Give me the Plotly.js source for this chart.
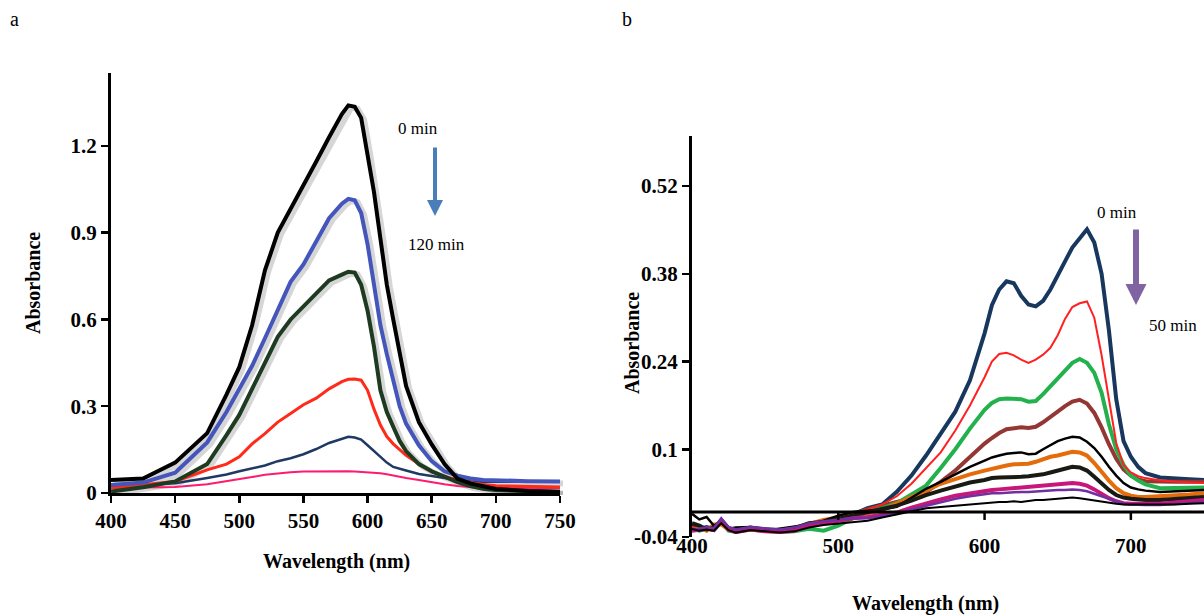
<!DOCTYPE html>
<html>
<head>
<meta charset="utf-8">
<script src="https://cdn.plot.ly/plotly-3.0.1.min.js"></script>
<style>html,body{margin:0;padding:0;background:#fff;}#chart{width:1204px;height:615px;}</style>
</head>
<body>
<div id="chart"></div>
<script>
// ---------- Panel a data (wavelength nm, absorbance) ----------
const waveA = [400,425,450,475,490,500,510,520,530,540,550,560,570,580,585,590,595,600,605,610,615,620,625,630,640,650,660,670,680,690,700,725,750];
const aBlack = [0.045,0.05,0.105,0.207,0.34,0.435,0.58,0.77,0.9,0.98,1.06,1.146,1.23,1.31,1.34,1.335,1.297,1.17,1.04,0.88,0.72,0.6,0.484,0.37,0.245,0.168,0.1,0.05,0.033,0.023,0.014,0.007,0.004];
const aBlue  = [0.028,0.036,0.07,0.175,0.28,0.36,0.44,0.535,0.63,0.73,0.79,0.87,0.95,1.0,1.017,1.012,0.968,0.86,0.71,0.58,0.48,0.39,0.3,0.24,0.165,0.11,0.075,0.06,0.05,0.045,0.043,0.041,0.04];
const aGreen = [0.005,0.02,0.04,0.1,0.2,0.27,0.36,0.45,0.54,0.6,0.645,0.69,0.735,0.755,0.765,0.762,0.72,0.63,0.506,0.355,0.28,0.229,0.18,0.145,0.1,0.075,0.056,0.038,0.024,0.015,0.01,0.006,0.004];
const aRed   = [0.017,0.028,0.04,0.08,0.1,0.125,0.17,0.205,0.245,0.275,0.305,0.328,0.36,0.385,0.393,0.394,0.39,0.355,0.29,0.235,0.195,0.17,0.149,0.13,0.1,0.073,0.057,0.045,0.036,0.029,0.025,0.022,0.021];
const aNavy  = [0.024,0.03,0.034,0.052,0.064,0.075,0.086,0.095,0.11,0.12,0.134,0.152,0.173,0.188,0.194,0.192,0.185,0.165,0.145,0.125,0.105,0.09,0.085,0.078,0.066,0.058,0.052,0.046,0.041,0.039,0.039,0.039,0.039];
const aPink  = [0.017,0.02,0.021,0.03,0.04,0.047,0.055,0.063,0.068,0.072,0.074,0.075,0.075,0.075,0.075,0.074,0.073,0.072,0.07,0.068,0.065,0.06,0.056,0.052,0.045,0.037,0.03,0.024,0.02,0.017,0.017,0.017,0.017];
const ticksAx = [400,450,500,550,600,650,700,750];
const ticksAy = [0,0.3,0.6,0.9,1.2];

// ---------- Panel b data ----------
const waveB = [400,405,410,415,420,425,430,440,450,460,470,480,490,500,510,520,530,540,550,560,570,580,590,600,605,610,615,620,625,630,635,640,645,650,655,660,665,670,675,680,685,690,695,700,705,710,720,730,740,750];
const bNavy   = [-0.020,-0.027,-0.024,-0.027,-0.013,-0.027,-0.030,-0.026,-0.028,-0.029,-0.027,-0.019,-0.015,-0.010,-0.004,0.006,0.012,0.032,0.058,0.09,0.124,0.16,0.21,0.285,0.33,0.355,0.368,0.365,0.345,0.331,0.328,0.337,0.355,0.376,0.40,0.422,0.437,0.451,0.43,0.38,0.29,0.18,0.113,0.088,0.072,0.062,0.055,0.053,0.052,0.051];
const bRed    = [-0.024,-0.029,-0.025,-0.028,-0.014,-0.029,-0.031,-0.027,-0.030,-0.031,-0.028,-0.020,-0.014,-0.008,-0.002,0.004,0.012,0.025,0.045,0.07,0.095,0.13,0.17,0.215,0.24,0.252,0.254,0.25,0.243,0.238,0.243,0.251,0.262,0.282,0.308,0.327,0.333,0.336,0.31,0.25,0.178,0.11,0.075,0.063,0.057,0.054,0.05,0.048,0.047,0.046];
const bGreen  = [-0.026,-0.030,-0.027,-0.029,-0.016,-0.030,-0.032,-0.028,-0.030,-0.032,-0.031,-0.027,-0.030,-0.022,-0.010,0.0,0.006,0.014,0.028,0.042,0.07,0.1,0.133,0.163,0.174,0.18,0.181,0.181,0.18,0.176,0.177,0.188,0.2,0.212,0.226,0.238,0.244,0.238,0.222,0.19,0.14,0.1,0.075,0.058,0.05,0.044,0.038,0.038,0.039,0.039];
const bBrown  = [-0.025,-0.029,-0.026,-0.028,-0.015,-0.028,-0.031,-0.027,-0.029,-0.031,-0.030,-0.022,-0.016,-0.010,-0.003,0.004,0.01,0.016,0.022,0.032,0.048,0.066,0.088,0.109,0.118,0.126,0.132,0.134,0.135,0.134,0.136,0.143,0.152,0.16,0.169,0.176,0.179,0.173,0.158,0.135,0.108,0.085,0.068,0.058,0.052,0.049,0.048,0.048,0.048,0.048];
const bBlack1 = [-0.003,-0.012,-0.008,-0.022,-0.016,-0.027,-0.025,-0.024,-0.030,-0.027,-0.024,-0.020,-0.014,-0.006,0.000,0.002,0.004,0.008,0.022,0.037,0.048,0.06,0.072,0.082,0.087,0.09,0.093,0.094,0.095,0.092,0.093,0.1,0.106,0.113,0.117,0.12,0.119,0.112,0.102,0.088,0.072,0.058,0.046,0.039,0.036,0.034,0.032,0.033,0.034,0.035];
const bOrange = [-0.030,-0.025,-0.030,-0.020,-0.020,-0.028,-0.030,-0.027,-0.029,-0.030,-0.028,-0.019,-0.013,-0.009,-0.002,-0.002,0.003,0.013,0.023,0.034,0.045,0.053,0.06,0.066,0.069,0.072,0.074,0.076,0.077,0.077,0.08,0.084,0.088,0.09,0.093,0.096,0.095,0.09,0.078,0.063,0.05,0.038,0.03,0.026,0.024,0.024,0.025,0.027,0.028,0.03];
const bBlack2 = [-0.018,-0.022,-0.028,-0.025,-0.014,-0.026,-0.029,-0.025,-0.028,-0.030,-0.026,-0.018,-0.016,-0.011,-0.006,-0.001,0.004,0.01,0.018,0.027,0.034,0.041,0.047,0.051,0.054,0.055,0.055,0.056,0.056,0.057,0.058,0.06,0.063,0.066,0.069,0.072,0.071,0.066,0.056,0.045,0.035,0.027,0.023,0.021,0.02,0.019,0.019,0.021,0.022,0.024];
const bMagenta= [-0.030,-0.028,-0.027,-0.029,-0.014,-0.028,-0.032,-0.028,-0.031,-0.032,-0.030,-0.022,-0.018,-0.014,-0.010,-0.008,-0.005,-0.001,0.007,0.014,0.02,0.026,0.03,0.033,0.035,0.036,0.037,0.038,0.039,0.039,0.04,0.041,0.042,0.043,0.044,0.046,0.045,0.042,0.036,0.029,0.022,0.017,0.014,0.013,0.013,0.013,0.013,0.015,0.017,0.019];
const bPurple = [-0.028,-0.027,-0.025,-0.026,-0.010,-0.024,-0.028,-0.024,-0.026,-0.028,-0.025,-0.018,-0.015,-0.012,-0.010,-0.01,-0.007,-0.003,0.004,0.01,0.016,0.021,0.025,0.028,0.03,0.03,0.031,0.031,0.032,0.032,0.033,0.033,0.034,0.035,0.035,0.036,0.035,0.033,0.029,0.025,0.02,0.016,0.013,0.012,0.011,0.011,0.011,0.013,0.015,0.016];
const bBlack3 = [-0.027,-0.030,-0.028,-0.030,-0.018,-0.029,-0.033,-0.029,-0.031,-0.033,-0.031,-0.025,-0.021,-0.019,-0.016,-0.014,-0.009,-0.004,0.001,0.006,0.008,0.01,0.013,0.015,0.016,0.016,0.016,0.017,0.016,0.018,0.019,0.019,0.02,0.022,0.022,0.023,0.022,0.02,0.018,0.016,0.015,0.013,0.012,0.012,0.011,0.011,0.011,0.012,0.013,0.014];
const ticksBx = [400,500,600,700];
const ticksBy = [-0.04,0.1,0.24,0.38,0.52];
const tickTextBy = ['-0.04','0.1','0.24','0.38','0.52'];

// ---------- geometry ----------
const W = 1204, H = 615;
const axA = [111/W, 560/W], ayA = [(H-493)/H, (H-73)/H];
const shx = 3, shy = 2; // shadow offset px
const axAs = [(111+shx)/W, (560+shx)/W], ayAs = [(H-493-shy)/H, (H-73-shy)/H];
const axB = [692/W, 1.0], ayB = [(H-537)/H, (H-136)/H];
const rangeBy = [-0.04, 0.6];

const FONT = '"Liberation Serif", "Times New Roman", Times, serif';

function shadow(y){
  return {x: waveA, y: y, xaxis:'x', yaxis:'y', mode:'lines', hoverinfo:'skip',
          line:{color:'rgba(0,0,0,0.16)', width:6}, showlegend:false};
}
function lineA(y, color, w){
  return {x: waveA, y: y, xaxis:'x2', yaxis:'y2', mode:'lines', line:{color:color, width:w}, showlegend:false};
}
function lineB(y, color, w){
  return {x: waveB, y: y, xaxis:'x3', yaxis:'y3', mode:'lines', line:{color:color, width:w}, showlegend:false};
}

const traces = [
  shadow(aBlack), shadow(aBlue), shadow(aGreen),
  lineA(aPink, '#ff1a6e', 2),
  lineA(aNavy, '#1f3864', 2.5),
  lineA(aRed, '#ff2a1a', 3),
  lineA(aGreen, '#1e3b22', 4),
  lineA(aBlue, '#4455bb', 4),
  lineA(aBlack, '#000000', 4),
  lineB(bNavy, '#17375e', 4),
  lineB(bBrown, '#943634', 4),
  lineB(bGreen, '#22b14c', 4),
  lineB(bRed, '#ff2020', 2),
  lineB(bOrange, '#e46c0a', 4),
  lineB(bBlack1, '#000000', 2.5),
  lineB(bBlack2, '#1a1a14', 4),
  lineB(bMagenta, '#c8177a', 4),
  lineB(bPurple, '#7030a0', 2.5),
  lineB(bBlack3, '#000000', 2)
];

// panel b: horizontal axis crossing at zero, with its tick marks hanging below it
const shapes = [
  {type:'line', xref:'x3 domain', yref:'y3', x0:0, x1:1, y0:0, y1:0, line:{color:'#000', width:3}, layer:'above'}
].concat(ticksBx.slice(1).map(v => ({
  type:'line', xref:'x3', yref:'y3', ysizemode:'pixel', yanchor:0, x0:v, x1:v, y0:0, y1:-8,
  line:{color:'#000', width:2.5}, layer:'above'})));

const tickFont = {family: FONT, size: 21, color:'#000', weight: 700};
const baseAxis = {showgrid:false, zeroline:false, linecolor:'#000', tickcolor:'#000', fixedrange:true};

function txt(t, px, py, size, extra){
  return Object.assign({text:t, xref:'paper', yref:'paper', x:px/W, y:(H-py)/H,
    xanchor:'center', yanchor:'middle', showarrow:false, font:{size:size, family:FONT, color:'#000'}}, extra||{});
}

const layout = {
  width: W, height: H,
  margin: {l:0, r:0, t:0, b:0},
  paper_bgcolor:'#ffffff', plot_bgcolor:'rgba(0,0,0,0)',
  showlegend:false,
  font:{family: FONT, color:'#000'},
  xaxis: Object.assign({}, baseAxis, {domain: axAs, range:[400,750], visible:false, anchor:'y'}),
  yaxis: Object.assign({}, baseAxis, {domain: ayAs, range:[0,1.452], visible:false, anchor:'x'}),
  xaxis2: Object.assign({}, baseAxis, {domain: axA, range:[400,750], anchor:'y2',
    tickvals: ticksAx, ticks:'outside', ticklen:7, tickwidth:2.5,
    showline:true, linewidth:3, tickfont: tickFont}),
  yaxis2: Object.assign({}, baseAxis, {domain: ayA, range:[0,1.452], anchor:'x2',
    tickvals: ticksAy, ticks:'outside', ticklen:7, tickwidth:2.5,
    showline:true, linewidth:3, tickfont: tickFont}),
  xaxis3: Object.assign({}, baseAxis, {domain: axB, range:[400,750], anchor:'y3',
    tickvals: ticksBx, ticks:'', showline:false,
    tickfont: tickFont, ticklabelstandoff:-6}),
  yaxis3: Object.assign({}, baseAxis, {domain: ayB, range: rangeBy, anchor:'x3',
    tickvals: ticksBy, ticktext: tickTextBy, ticks:'outside', ticklen:7, tickwidth:2.5,
    showline:true, linewidth:3, tickfont: tickFont, zeroline:false}),
  shapes: shapes,
  annotations: [
    txt('a', 14, 19, 20),
    txt('b', 627, 19, 20),
    txt('<b>Wavelength (nm)</b>', 336, 561, 20),
    txt('<b>Absorbance</b>', 33, 283, 20, {textangle:-90}),
    txt('<b>Wavelength (nm)</b>', 925, 603, 20),
    txt('<b>Absorbance</b>', 632, 343, 20, {textangle:-90}),
    txt('0 min', 418, 128, 17),
    txt('120 min', 436, 245, 17),
    {text:'', xref:'paper', yref:'paper', x:435/W, y:(H-216)/H, ax:0, ay:-70, showarrow:true,
      arrowhead:2, arrowsize:0.8, arrowwidth:4, arrowcolor:'#4a7ebb'},
    txt('0 min', 1117, 213, 17),
    txt('50 min', 1173, 326, 17),
    {text:'', xref:'paper', yref:'paper', x:1136/W, y:(H-305)/H, ax:0, ay:-77, showarrow:true,
      arrowhead:2, arrowsize:0.7, arrowwidth:6, arrowcolor:'#8064a2'}
  ]
};

Plotly.newPlot('chart', traces, layout, {staticPlot:true, displayModeBar:false});
</script>
</body>
</html>
